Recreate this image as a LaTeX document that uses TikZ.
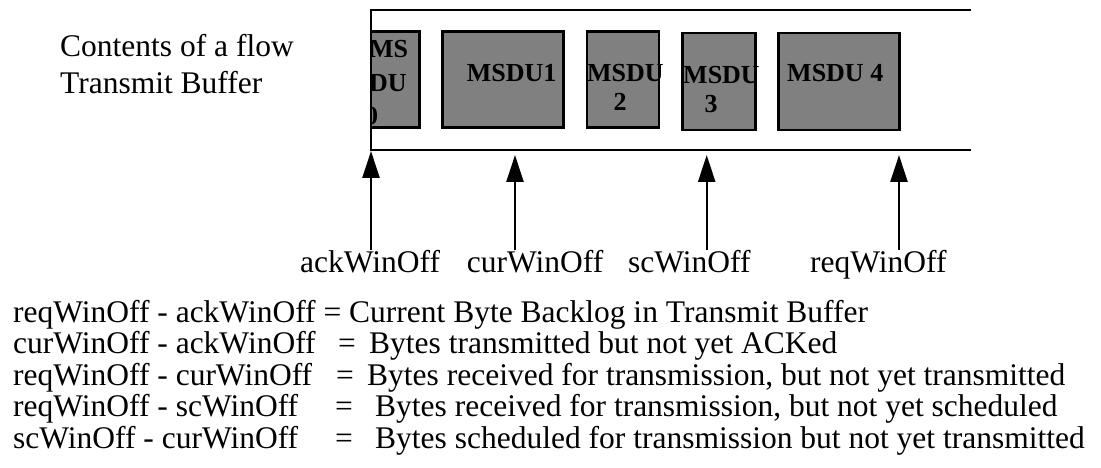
\documentclass[tikz,border=0pt]{standalone}
\usepackage{fontspec}
\setmainfont{Liberation Serif}
\usetikzlibrary{arrows.meta}
\tikzset{
  buf/.style={line width=2.6pt},
  msdu/.style={draw=black, fill=gray, line width=2.4pt, anchor=north west, inner sep=0pt, outer sep=0pt},
  boxtxt/.style={anchor=base west, inner sep=0pt, font=\fontsize{26}{26}\selectfont\bfseries},
  boxtxtc/.style={anchor=base, inner sep=0pt, font=\fontsize{26}{26}\selectfont\bfseries},
  lbl/.style={anchor=base west, inner sep=0pt, font=\fontsize{31.5}{31.5}\selectfont},
  eqn/.style={anchor=base west, inner sep=0pt, font=\fontsize{31.5}{31.5}\selectfont},
  ptr/.style={line width=2.4pt, -{Triangle[length=27pt,width=17pt]}}
}
\begin{document}
\begin{tikzpicture}[x=1pt,y=-1pt]
\useasboundingbox (0,0) rectangle (1101,468);
% buffer
\coordinate (bufTL) at (971,10);
\coordinate (bufL) at (371,10);
\coordinate (bufBL) at (371,150);
\coordinate (bufBR) at (971,150);
\draw[buf] (bufTL) -- (bufL) -- (bufBL) -- (bufBR);
% MSDU boxes
\node[msdu, minimum width=48.3pt, minimum height=96pt] (m0) at (371,31.7) {};
\node[msdu, minimum width=121pt, minimum height=96pt] (m1) at (442.3,31.7) {};
\node[msdu, minimum width=72.3pt, minimum height=96pt] (m2) at (586.7,31.7) {};
\node[msdu, minimum width=73pt, minimum height=96.7pt] (m3) at (682.3,33.3) {};
\node[msdu, minimum width=121pt, minimum height=96.7pt] (m4) at (778.3,33.3) {};
\begin{scope}
\clip (372.2,31.7) rectangle (419.3,127.7);
\node[boxtxt] (t0a) at (369,58) {MS};
\node[boxtxt] (t0b) at (369,92) {DU};
\node[boxtxt] (t0c) at (365,125) {0};
\end{scope}
\draw[line width=2.4pt] (371,31.7) -- (419.3,31.7) -- (419.3,127.7) -- (371,127.7);
\node[boxtxt] (t1) at (466.7,81.7) {MSDU1};
\node[boxtxt] (t2a) at (587,81.7) {MSDU};
\node[boxtxtc] (t2b) at (620,111) {2};
\node[boxtxt] (t3a) at (683,84) {MSDU};
\node[boxtxtc] (t3b) at (711,113) {3};
\node[boxtxt] (t4) at (787,81.7) {MSDU 4};
% left label
\node[lbl] (c1) at (60,56.7) {Contents of a flow};
\node[lbl] (c2) at (60,93.3) {Transmit Buffer};
% pointer labels
\node[lbl] (ack) at (300,272) {ackWinOff};
\node[lbl] (cur) at (466.7,272) {curWinOff};
\node[lbl] (sc) at (628,272) {scWinOff};
\node[lbl] (req) at (810,272) {reqWinOff};
% pointer arrows
\coordinate (ackB) at (371,250); \coordinate (ackT) at (371,151);
\coordinate (curB) at (515,250); \coordinate (curT) at (515,155);
\coordinate (scB) at (706.7,250); \coordinate (scT) at (706.7,155);
\coordinate (reqB) at (899,250); \coordinate (reqT) at (899,155);
\draw[ptr] (ackB) -- (ackT);
\draw[ptr] (curB) -- (curT);
\draw[ptr] (scB) -- (scT);
\draw[ptr] (reqB) -- (reqT);
% equations
\node[eqn] (e1) at (13,322) {reqWinOff - ackWinOff = Current Byte Backlog in Transmit Buffer};
\node[eqn] (e2a) at (13,353.5) {curWinOff - ackWinOff};
\node[eqn] (e2b) at (338,353.5) {=};
\node[eqn] (e2c) at (369,353.5) {Bytes transmitted but not yet ACKed};
\node[eqn] (e3a) at (13,385) {reqWinOff - curWinOff};
\node[eqn] (e3b) at (336,385) {=};
\node[eqn] (e3c) at (367,385) {Bytes received for transmission, but not yet transmitted};
\node[eqn] (e4a) at (13,416.5) {reqWinOff - scWinOff};
\node[eqn] (e4b) at (335,416.5) {=};
\node[eqn] (e4c) at (375,416.5) {Bytes received for transmission, but not yet scheduled};
\node[eqn] (e5a) at (13,448) {scWinOff - curWinOff};
\node[eqn] (e5b) at (335,448) {=};
\node[eqn] (e5c) at (375,448) {Bytes scheduled for transmission but not yet transmitted};
\end{tikzpicture}
\end{document}
